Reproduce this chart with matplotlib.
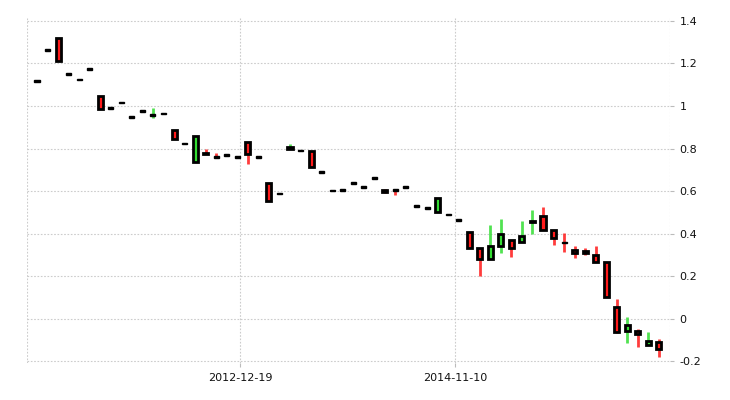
import matplotlib
matplotlib.use("Agg")
import matplotlib.pyplot as plt
from matplotlib.patches import Rectangle

opens = [1.116,1.262,1.318,1.149,1.125,1.173,1.045,0.989,1.017,0.947,0.975,0.955,0.965,0.887,0.824,0.738,0.780,0.763,0.768,0.759,
         0.830,0.759,0.637,0.589,0.798,0.791,0.786,0.688,0.602,0.605,0.638,0.620,0.661,0.605,0.610,0.620,0.529,0.520,0.500,0.489,
         0.464,0.407,0.332,0.278,0.340,0.369,0.358,0.452,0.482,0.416,0.360,0.322,0.318,0.299,0.266,0.056,-0.059,-0.060,-0.125,-0.111]
closes = [1.116,1.262,1.211,1.149,1.125,1.173,0.987,0.989,1.017,0.947,0.975,0.962,0.965,0.846,0.824,0.859,0.772,0.757,0.768,0.759,
          0.776,0.759,0.553,0.589,0.806,0.791,0.713,0.688,0.602,0.605,0.638,0.620,0.661,0.595,0.603,0.620,0.529,0.520,0.567,0.489,
          0.464,0.330,0.278,0.341,0.398,0.330,0.388,0.460,0.415,0.377,0.356,0.310,0.308,0.264,0.100,-0.062,-0.029,-0.072,-0.106,-0.141]
highs = [1.116,1.262,1.318,1.149,1.125,1.173,1.045,0.989,1.017,0.947,0.975,0.990,0.965,0.887,0.824,0.859,0.796,0.780,0.768,0.759,
         0.830,0.759,0.637,0.589,0.822,0.791,0.786,0.688,0.602,0.605,0.638,0.620,0.661,0.609,0.610,0.620,0.529,0.520,0.567,0.489,
         0.464,0.407,0.332,0.440,0.468,0.369,0.457,0.510,0.525,0.416,0.402,0.340,0.330,0.340,0.266,0.092,0.009,-0.050,-0.063,-0.097]
lows = [1.116,1.262,1.211,1.149,1.125,1.173,0.987,0.989,1.017,0.947,0.975,0.945,0.965,0.846,0.824,0.738,0.772,0.757,0.768,0.759,
        0.726,0.759,0.553,0.589,0.798,0.791,0.713,0.688,0.602,0.605,0.638,0.620,0.661,0.589,0.581,0.620,0.529,0.520,0.500,0.489,
        0.464,0.330,0.200,0.278,0.308,0.288,0.358,0.398,0.415,0.345,0.315,0.285,0.300,0.264,0.100,-0.068,-0.115,-0.134,-0.125,-0.183]
xtick_pos = [19.3, 39.7]
xtick_labels = ["2012-12-19", "2014-11-10"]
ytick_vals = [-0.2, 0, 0.2, 0.4, 0.6, 0.8, 1, 1.2, 1.4]
ytick_labels = ["-0.2", "0", "0.2", "0.4", "0.6", "0.8", "1", "1.2", "1.4"]

fig = plt.figure(figsize=(7.3, 4.0), dpi=100)
ax = fig.add_axes([27/730, 1-363/400, (670-27)/730, (363-18)/400])
ax.set_xlim(-0.95, 60.05)
ax.set_ylim(-0.209, 1.414)
w = 0.48
minh = 0.008
for i, (o, c, h, l) in enumerate(zip(opens, closes, highs, lows)):
    col = "#ff1a1a" if c < o else "#33dd33"
    ax.plot([i, i], [l, h], color=col, lw=2, solid_capstyle="butt", zorder=2, alpha=0.85)
    lo, hi = min(o, c), max(o, c)
    if hi - lo < minh:
        m = (hi + lo) / 2
        lo, hi = m - minh/2, m + minh/2
        ax.add_patch(Rectangle((i - w/2, lo), w, hi - lo, facecolor="black", edgecolor="black", lw=1, zorder=3))
    else:
        ax.add_patch(Rectangle((i - w/2, lo), w, hi - lo, facecolor=col, edgecolor="black", lw=2, zorder=3))

for s in ax.spines.values():
    s.set_visible(False)
ax.yaxis.tick_right()
ax.set_yticks(ytick_vals)
ax.set_yticklabels(ytick_labels)
ax.set_xticks(xtick_pos)
ax.set_xticklabels(xtick_labels)
ax.tick_params(axis="both", length=3, width=0.8, color="#bbbbbb", labelsize=8, labelcolor="#111111", pad=4)
for y in ytick_vals:
    ax.axhline(y, color="#cccccc", lw=0.8, ls=(0, (1.5, 1.5)), zorder=0)
for x in [-0.95] + xtick_pos + [60.05]:
    ax.axvline(x, color="#cccccc", lw=0.8, ls=(0, (1.5, 1.5)), zorder=0)
fig.savefig("out.png", dpi=100)
